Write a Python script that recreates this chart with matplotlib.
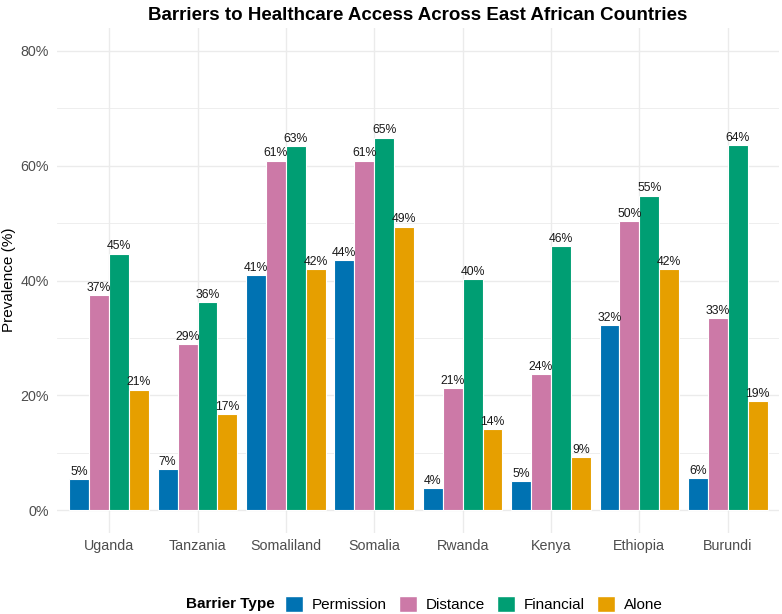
import numpy as np
import matplotlib.pyplot as plt
from matplotlib.patches import Patch

plt.rcParams['font.family'] = ['Liberation Sans', 'DejaVu Sans']

countries = ["Uganda", "Tanzania", "Somaliland", "Somalia",
             "Rwanda", "Kenya", "Ethiopia", "Burundi"]
barriers = ["Permission", "Distance", "Financial", "Alone"]
colors = ["#0072B2", "#CC79A7", "#009E73", "#E69F00"]

permission = [5.4, 7.2, 41.0, 43.6, 3.9, 5.1, 32.2, 5.6]
distance = [37.4, 28.9, 60.9, 60.9, 21.3, 23.7, 50.4, 33.4]
financial = [44.7, 36.3, 63.4, 64.9, 40.2, 46.0, 54.8, 63.6]
alone = [21.0, 16.8, 42.0, 49.4, 14.1, 9.3, 42.0, 19.0]
series = [permission, distance, financial, alone]

W, H = 782, 614
fig = plt.figure(figsize=(W / 100, H / 100), dpi=100)
ax = fig.add_axes([57 / W, 1 - 533 / H, (779 - 57) / W, (533 - 28) / H])

x = np.arange(len(countries))
bw = 0.9 / 4
for i, (name, vals, col) in enumerate(zip(barriers, series, colors)):
    pos = x + (i - 1.5) * bw
    ax.bar(pos, vals, width=bw, color=col, edgecolor="white", linewidth=0.8,
           zorder=3, label=name)
    for px, v in zip(pos, vals):
        ax.annotate(f"{round(v)}%", (px, v), xytext=(0, 0.8),
                    textcoords="offset points", ha="center", va="bottom",
                    fontsize=8.8, color="#1a1a1a", zorder=4)

ax.set_xlim(-0.59, 7.58)
ax.set_ylim(-4, 84)
ax.set_xticks(x)
ax.set_xticklabels(countries)
ax.set_yticks([0, 20, 40, 60, 80])
ax.set_yticklabels(["0%", "20%", "40%", "60%", "80%"])
ax.set_yticks([10, 30, 50, 70], minor=True)
ax.tick_params(axis="both", which="both", length=0, labelsize=10.3,
               labelcolor="#4d4d4d")
ax.tick_params(axis="y", pad=6)
ax.tick_params(axis="x", pad=4.5)
ax.grid(True, which="major", color="#ebebeb", linewidth=1.0, zorder=0)
ax.grid(True, which="minor", axis="y", color="#ebebeb", linewidth=0.6, zorder=0)
for s in ax.spines.values():
    s.set_visible(False)

# y label placed by hand so it is not clipped at the left edge
fig.text(9.5 / W, 1 - 280 / H, "Prevalence (%)", fontsize=11, rotation=90,
         ha="center", va="center")
ax.set_title("Barriers to Healthcare Access Across East African Countries",
             fontsize=13.5, fontweight="bold", pad=6)

handles = [Patch(facecolor=c, edgecolor="white", label=b)
           for b, c in zip(barriers, colors)]
fig.text(186 / W, 1 - 604 / H, "Barrier Type", fontsize=11, fontweight="bold",
         ha="left", va="center")
fig.legend(handles=handles, loc="center left",
           bbox_to_anchor=(285 / W, 1 - 604 / H), ncol=4, frameon=False,
           fontsize=11, borderaxespad=0, borderpad=0, handlelength=1.15,
           handleheight=1.2, handletextpad=0.6, columnspacing=0.8)

fig.savefig("out.png", dpi=100)
